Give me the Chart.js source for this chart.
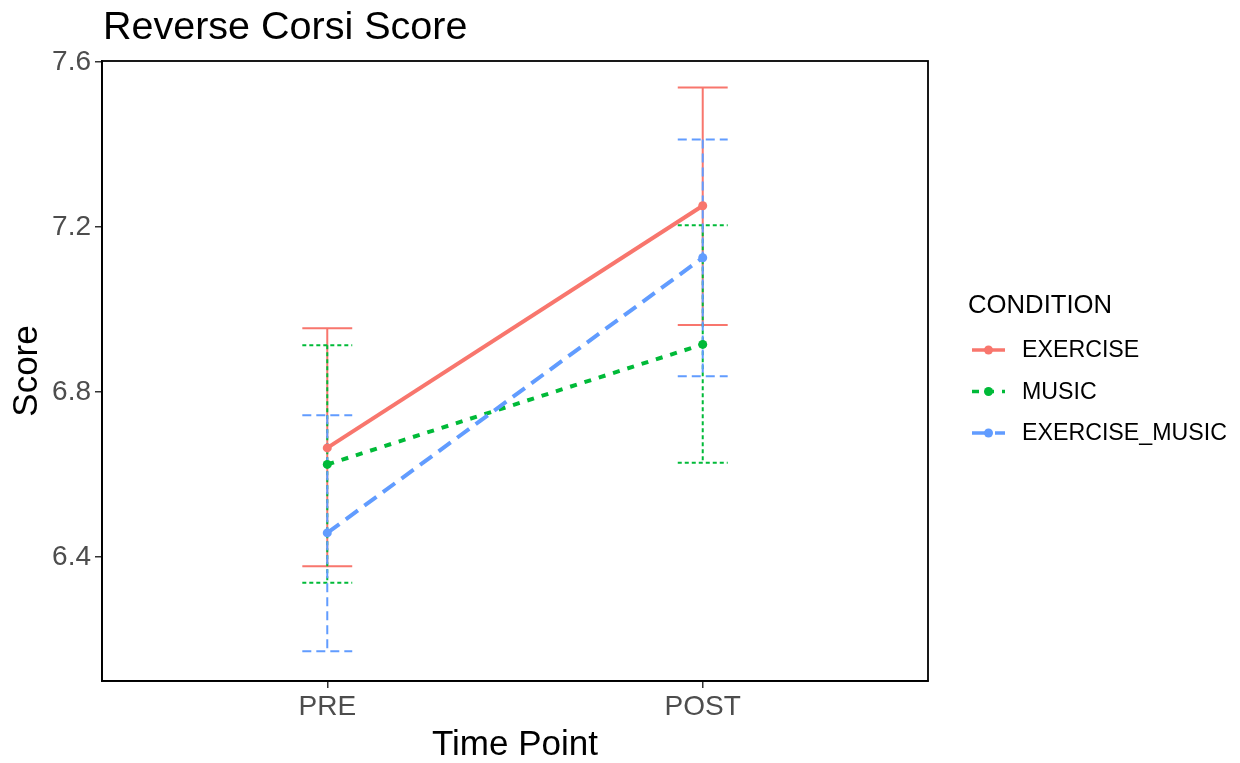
<!DOCTYPE html>
<html>
<head>
<meta charset="utf-8">
<script src="https://cdn.jsdelivr.net/npm/chart.js@4"></script>
<style>
  body { margin: 0; background: #fff; }
  #wrap { width: 1240px; height: 763px; position: relative; }
</style>
</head>
<body>
<div id="wrap"><canvas id="myChart"></canvas></div>
<script>
const ctx = document.getElementById('myChart').getContext('2d');

// data: group means with lower / upper error limits at each time point
const timePoints = ['PRE', 'POST'];
const conditions = ['EXERCISE', 'MUSIC', 'EXERCISE_MUSIC'];
const exerciseMean = [6.664, 7.251];
const exerciseLow = [6.377, 6.962];
const exerciseHigh = [6.954, 7.538];
const musicMean = [6.624, 6.915];
const musicLow = [6.337, 6.628];
const musicHigh = [6.913, 7.204];
const exMusicMean = [6.458, 7.125];
const exMusicLow = [6.171, 6.838];
const exMusicHigh = [6.743, 7.412];
const yTicks = [6.4, 6.8, 7.2, 7.6];

const FONT = "'Liberation Sans', Arial, sans-serif";
const colors = ['#F8766D', '#00BA38', '#619CFF'];
const lineDash = [[], [7, 8], [15, 8]];
const errDash = [[], [4, 3], [9, 5]];
const capHalf = 0.0665; // half width of the error bar caps, in x units

function toPoints(means) {
    return means.map((v, i) => ({ x: i + 1, y: v }));
}

const series = [
    { mean: exerciseMean, low: exerciseLow, high: exerciseHigh },
    { mean: musicMean, low: musicLow, high: musicHigh },
    { mean: exMusicMean, low: exMusicLow, high: exMusicHigh }
];

const datasets = series.map((s, i) => ({
    label: conditions[i],
    data: toPoints(s.mean),
    low: s.low,
    high: s.high,
    errDash: errDash[i],
    borderColor: colors[i],
    backgroundColor: colors[i],
    borderWidth: 4,
    borderDash: lineDash[i],
    pointRadius: 4.5,
    pointBorderWidth: 0,
    order: 3 - i
}));

// vertical error bars with caps, under the lines
const errorBars = {
    id: 'errorBars',
    beforeDatasetsDraw(chart) {
        const c = chart.ctx;
        const xs = chart.scales.x, ys = chart.scales.y;
        chart.data.datasets.forEach(ds => {
            c.save();
            c.strokeStyle = ds.borderColor;
            c.lineWidth = 2;
            c.setLineDash(ds.errDash);
            ds.low.forEach((lo, i) => {
                const xc = xs.getPixelForValue(i + 1);
                const xl = xs.getPixelForValue(i + 1 - capHalf);
                const xr = xs.getPixelForValue(i + 1 + capHalf);
                const yl = ys.getPixelForValue(lo);
                const yh = ys.getPixelForValue(ds.high[i]);
                c.beginPath();
                c.moveTo(xc, yh); c.lineTo(xc, yl);
                c.moveTo(xl, yh); c.lineTo(xr, yh);
                c.moveTo(xl, yl); c.lineTo(xr, yl);
                c.stroke();
            });
            c.restore();
        });
    }
};

// panel frame, plot title and legend
const decorations = {
    id: 'decorations',
    afterDraw(chart) {
        const c = chart.ctx;
        const a = chart.chartArea;
        c.save();
        c.strokeStyle = '#000';
        c.lineWidth = 1.8;
        c.setLineDash([]);
        c.strokeRect(a.left, a.top, a.right - a.left, a.bottom - a.top);

        c.fillStyle = '#000';
        c.textBaseline = 'alphabetic';
        c.font = `39.5px ${FONT}`;
        c.fillText('Reverse Corsi Score', a.left + 1, 39);

        c.font = `25.7px ${FONT}`;
        c.fillText('CONDITION', 968, 313);

        c.font = `23.2px ${FONT}`;
        c.textBaseline = 'middle';
        chart.data.datasets.forEach((ds, i) => {
            const yRow = 350 + i * 41.5;
            c.strokeStyle = ds.borderColor;
            c.lineWidth = 3.5;
            c.setLineDash(ds.borderDash);
            c.beginPath();
            c.moveTo(972, yRow); c.lineTo(1005, yRow);
            c.stroke();
            c.fillStyle = ds.borderColor;
            c.beginPath();
            c.arc(988.5, yRow, 4.5, 0, Math.PI * 2);
            c.fill();
            c.fillStyle = '#000';
            c.fillText(ds.label, 1022, yRow + 1);
        });
        c.restore();
    }
};

new Chart(ctx, {
    type: 'line',
    data: { datasets: datasets },
    plugins: [errorBars, decorations],
    options: {
        responsive: true,
        maintainAspectRatio: false,
        animation: false,
        layout: { padding: { top: 61, right: 312, left: 0, bottom: 0 } },
        plugins: {
            legend: { display: false },
            tooltip: { enabled: false },
            title: { display: false }
        },
        scales: {
            x: {
                type: 'linear',
                min: 0.4,
                max: 2.6,
                afterBuildTicks: s => { s.ticks = timePoints.map((_, i) => ({ value: i + 1 })); },
                afterFit: s => { s.height = 82; },
                ticks: {
                    callback: v => timePoints[v - 1],
                    font: { family: FONT, size: 28 },
                    color: '#4D4D4D',
                    padding: 2,
                    maxRotation: 0
                },
                grid: { drawOnChartArea: false, tickLength: 7, color: '#333', lineWidth: 1.5 },
                border: { color: '#000', width: 1.8 },
                title: {
                    display: true,
                    text: 'Time Point',
                    font: { family: FONT, size: 35, lineHeight: 1 },
                    color: '#000',
                    padding: { top: 0, bottom: 0 }
                }
            },
            y: {
                min: 6.099,
                max: 7.602,
                afterBuildTicks: s => { s.ticks = yTicks.map(v => ({ value: v })); },
                afterFit: s => { s.width = 102; },
                ticks: {
                    callback: v => v.toFixed(1),
                    font: { family: FONT, size: 28 },
                    color: '#4D4D4D',
                    padding: 4
                },
                grid: { drawOnChartArea: false, tickLength: 7, color: '#333', lineWidth: 1.5 },
                border: { color: '#000', width: 1.8 },
                title: {
                    display: true,
                    text: 'Score',
                    font: { family: FONT, size: 35, lineHeight: 1 },
                    color: '#000',
                    padding: { top: 10, bottom: 0 }
                }
            }
        }
    }
});
</script>
</body>
</html>
